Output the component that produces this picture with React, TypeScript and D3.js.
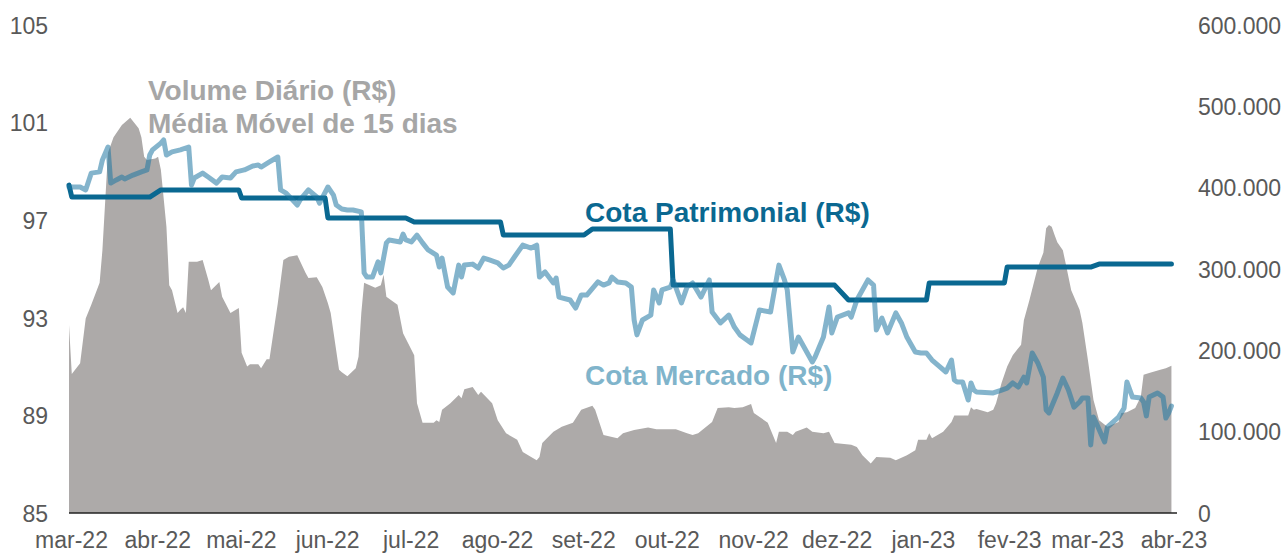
import React, { useEffect, useRef } from 'react'
import * as d3 from 'd3'

// volume diário (média móvel 15 dias), R$ - eixo direito
const volumeSeries: [string, number][] = [
  ['2022-03-01', 231000], ['2022-03-02', 171000], ['2022-03-05', 184000], ['2022-03-07', 239000],
  ['2022-03-09', 256000], ['2022-03-12', 283000], ['2022-03-13', 323000], ['2022-03-15', 443000],
  ['2022-03-17', 462000], ['2022-03-20', 477000], ['2022-03-23', 486000], ['2022-03-26', 473000],
  ['2022-03-27', 462000], ['2022-03-28', 438000], ['2022-03-29', 434000], ['2022-04-01', 436000],
  ['2022-04-02', 438000], ['2022-04-03', 422000], ['2022-04-05', 352000], ['2022-04-06', 280000],
  ['2022-04-07', 274000], ['2022-04-09', 246000], ['2022-04-10', 250000], ['2022-04-11', 253000],
  ['2022-04-12', 246000], ['2022-04-13', 309000], ['2022-04-16', 309000], ['2022-04-18', 311000],
  ['2022-04-20', 287000], ['2022-04-21', 274000], ['2022-04-24', 284000], ['2022-04-25', 266000],
  ['2022-04-28', 246000], ['2022-05-01', 252000], ['2022-05-02', 197000], ['2022-05-04', 180000],
  ['2022-05-05', 183000], ['2022-05-08', 183000], ['2022-05-09', 178000], ['2022-05-11', 189000],
  ['2022-05-12', 189000], ['2022-05-15', 258000], ['2022-05-17', 311000], ['2022-05-19', 315000],
  ['2022-05-22', 317000], ['2022-05-25', 295000], ['2022-05-26', 289000], ['2022-05-29', 290000],
  ['2022-05-31', 278000], ['2022-06-02', 258000], ['2022-06-03', 246000], ['2022-06-06', 176000],
  ['2022-06-07', 173000], ['2022-06-09', 168000], ['2022-06-12', 178000], ['2022-06-13', 192000],
  ['2022-06-14', 246000], ['2022-06-15', 283000], ['2022-06-17', 280000], ['2022-06-19', 277000],
  ['2022-06-21', 280000], ['2022-06-22', 293000], ['2022-06-23', 266000], ['2022-06-27', 256000],
  ['2022-06-29', 221000], ['2022-07-03', 194000], ['2022-07-04', 135000], ['2022-07-06', 111000],
  ['2022-07-10', 111000], ['2022-07-11', 114000], ['2022-07-12', 112000], ['2022-07-13', 127000],
  ['2022-07-16', 135000], ['2022-07-19', 145000], ['2022-07-20', 141000], ['2022-07-21', 152000],
  ['2022-07-24', 155000], ['2022-07-26', 145000], ['2022-07-27', 149000], ['2022-07-31', 135000],
  ['2022-08-02', 114000], ['2022-08-05', 98000], ['2022-08-09', 90000], ['2022-08-11', 75000],
  ['2022-08-14', 69000], ['2022-08-16', 65000], ['2022-08-17', 69000], ['2022-08-18', 86000],
  ['2022-08-22', 100000], ['2022-08-25', 106000], ['2022-08-29', 111000], ['2022-09-01', 127000],
  ['2022-09-05', 132000], ['2022-09-06', 127000], ['2022-09-09', 96000], ['2022-09-14', 92000],
  ['2022-09-16', 98000], ['2022-09-20', 102000], ['2022-09-25', 105000], ['2022-09-28', 103000],
  ['2022-10-05', 103000], ['2022-10-09', 98000], ['2022-10-11', 96000], ['2022-10-13', 98000],
  ['2022-10-18', 112000], ['2022-10-20', 129000], ['2022-10-24', 130000], ['2022-10-26', 129000],
  ['2022-10-29', 130000], ['2022-11-01', 134000], ['2022-11-02', 123000], ['2022-11-07', 111000],
  ['2022-11-10', 86000], ['2022-11-11', 100000], ['2022-11-14', 100000], ['2022-11-16', 96000],
  ['2022-11-17', 100000], ['2022-11-21', 105000], ['2022-11-23', 100000], ['2022-11-27', 98000],
  ['2022-11-29', 100000], ['2022-12-01', 86000], ['2022-12-07', 84000], ['2022-12-09', 81000],
  ['2022-12-11', 71000], ['2022-12-14', 61000], ['2022-12-16', 69000], ['2022-12-21', 68000],
  ['2022-12-23', 65000], ['2022-12-27', 71000], ['2022-12-30', 77000], ['2022-12-31', 90000],
  ['2023-01-03', 90000], ['2023-01-04', 98000], ['2023-01-05', 92000], ['2023-01-09', 100000],
  ['2023-01-12', 112000], ['2023-01-13', 120000], ['2023-01-18', 120000], ['2023-01-19', 130000],
  ['2023-01-20', 127000], ['2023-01-21', 128000], ['2023-01-25', 124000], ['2023-01-27', 127000],
  ['2023-01-28', 135000], ['2023-01-30', 160000], ['2023-02-01', 180000], ['2023-02-03', 194000],
  ['2023-02-06', 207000], ['2023-02-07', 237000], ['2023-02-09', 262000], ['2023-02-12', 302000],
  ['2023-02-14', 320000], ['2023-02-15', 350000], ['2023-02-16', 354000], ['2023-02-17', 352000],
  ['2023-02-18', 342000], ['2023-02-19', 333000], ['2023-02-21', 323000], ['2023-02-22', 307000],
  ['2023-02-24', 274000], ['2023-02-27', 250000], ['2023-02-28', 234000], ['2023-03-02', 188000],
  ['2023-03-04', 139000], ['2023-03-06', 114000], ['2023-03-09', 106000], ['2023-03-13', 112000],
  ['2023-03-14', 123000], ['2023-03-16', 124000], ['2023-03-19', 129000], ['2023-03-21', 143000],
  ['2023-03-22', 170000], ['2023-03-24', 172000], ['2023-03-28', 176000], ['2023-03-30', 178000],
  ['2023-04-01', 181000],
]

// cota de mercado, R$ - eixo esquerdo
const mercadoSeries: [string, number][] = [
  ['2022-03-01', 98.36], ['2022-03-05', 98.36], ['2022-03-07', 98.24], ['2022-03-09', 98.93],
  ['2022-03-12', 98.98], ['2022-03-13', 99.47], ['2022-03-15', 100.0], ['2022-03-16', 98.52],
  ['2022-03-18', 98.65], ['2022-03-20', 98.77], ['2022-03-21', 98.69], ['2022-03-24', 98.85],
  ['2022-03-27', 98.98], ['2022-03-29', 99.06], ['2022-03-30', 99.67], ['2022-03-31', 99.88],
  ['2022-04-03', 100.16], ['2022-04-04', 100.29], ['2022-04-05', 99.67], ['2022-04-07', 99.8],
  ['2022-04-10', 99.88], ['2022-04-13', 100.0], ['2022-04-14', 98.44], ['2022-04-15', 98.73],
  ['2022-04-18', 98.93], ['2022-04-20', 98.77], ['2022-04-23', 98.52], ['2022-04-25', 98.77],
  ['2022-04-28', 98.73], ['2022-04-30', 98.98], ['2022-05-03', 99.06], ['2022-05-06', 99.22],
  ['2022-05-08', 99.26], ['2022-05-09', 99.18], ['2022-05-12', 99.39], ['2022-05-15', 99.59],
  ['2022-05-16', 98.24], ['2022-05-18', 98.11], ['2022-05-22', 97.62], ['2022-05-23', 97.83],
  ['2022-05-26', 98.24], ['2022-05-29', 97.95], ['2022-05-30', 97.7], ['2022-06-02', 98.36],
  ['2022-06-04', 98.03], ['2022-06-05', 97.62], ['2022-06-07', 97.46], ['2022-06-09', 97.42],
  ['2022-06-11', 97.42], ['2022-06-14', 97.34], ['2022-06-15', 94.84], ['2022-06-16', 94.67],
  ['2022-06-18', 94.67], ['2022-06-20', 95.29], ['2022-06-21', 94.84], ['2022-06-23', 96.07],
  ['2022-06-24', 96.19], ['2022-06-28', 96.11], ['2022-06-29', 96.43], ['2022-06-30', 96.19],
  ['2022-07-02', 96.11], ['2022-07-04', 96.39], ['2022-07-06', 96.07], ['2022-07-08', 95.78],
  ['2022-07-11', 95.57], ['2022-07-12', 95.08], ['2022-07-13', 95.45], ['2022-07-15', 94.26],
  ['2022-07-17', 94.02], ['2022-07-19', 95.16], ['2022-07-20', 94.67], ['2022-07-21', 95.16],
  ['2022-07-24', 95.2], ['2022-07-26', 95.04], ['2022-07-28', 95.45], ['2022-07-30', 95.37],
  ['2022-08-02', 95.25], ['2022-08-04', 95.04], ['2022-08-06', 95.16], ['2022-08-08', 95.49],
  ['2022-08-11', 95.98], ['2022-08-14', 95.86], ['2022-08-16', 95.98], ['2022-08-17', 94.67],
  ['2022-08-19', 94.88], ['2022-08-22', 94.43], ['2022-08-23', 94.63], ['2022-08-24', 93.85],
  ['2022-08-28', 93.73], ['2022-08-30', 93.4], ['2022-09-01', 93.93], ['2022-09-03', 93.93],
  ['2022-09-07', 94.47], ['2022-09-09', 94.34], ['2022-09-11', 94.43], ['2022-09-12', 94.67],
  ['2022-09-14', 94.47], ['2022-09-17', 94.43], ['2022-09-19', 94.26], ['2022-09-20', 92.91],
  ['2022-09-21', 92.3], ['2022-09-23', 92.91], ['2022-09-26', 93.11], ['2022-09-27', 94.14],
  ['2022-09-29', 93.61], ['2022-09-30', 94.14], ['2022-10-03', 94.26], ['2022-10-04', 94.55],
  ['2022-10-07', 93.61], ['2022-10-09', 94.26], ['2022-10-11', 94.43], ['2022-10-14', 93.85],
  ['2022-10-17', 94.55], ['2022-10-18', 93.24], ['2022-10-21', 92.79], ['2022-10-24', 93.11],
  ['2022-10-26', 92.62], ['2022-10-28', 92.3], ['2022-11-01', 91.97], ['2022-11-04', 93.32],
  ['2022-11-08', 93.24], ['2022-11-11', 95.16], ['2022-11-13', 94.55], ['2022-11-14', 94.14],
  ['2022-11-16', 91.6], ['2022-11-18', 92.21], ['2022-11-23', 91.19], ['2022-11-24', 91.39],
  ['2022-11-27', 92.21], ['2022-11-29', 93.44], ['2022-11-30', 92.38], ['2022-12-02', 93.03],
  ['2022-12-06', 93.2], ['2022-12-07', 93.03], ['2022-12-09', 93.73], ['2022-12-13', 94.55],
  ['2022-12-15', 94.34], ['2022-12-16', 92.5], ['2022-12-18', 92.99], ['2022-12-20', 92.38],
  ['2022-12-23', 93.2], ['2022-12-25', 92.79], ['2022-12-27', 92.2], ['2022-12-30', 91.6],
  ['2023-01-01', 91.56], ['2023-01-03', 91.56], ['2023-01-05', 91.27], ['2023-01-07', 91.07],
  ['2023-01-10', 90.78], ['2023-01-12', 91.27], ['2023-01-13', 90.45], ['2023-01-14', 90.37],
  ['2023-01-16', 90.37], ['2023-01-18', 89.63], ['2023-01-19', 90.33], ['2023-01-20', 90.04],
  ['2023-01-21', 89.96], ['2023-01-27', 89.92], ['2023-01-30', 90.04], ['2023-02-01', 90.12],
  ['2023-02-03', 90.33], ['2023-02-05', 90.16], ['2023-02-07', 90.57], ['2023-02-08', 90.33],
  ['2023-02-10', 91.56], ['2023-02-12', 91.15], ['2023-02-14', 90.57], ['2023-02-15', 89.22],
  ['2023-02-16', 89.1], ['2023-02-19', 89.92], ['2023-02-21', 90.53], ['2023-02-23', 90.04],
  ['2023-02-25', 89.34], ['2023-02-27', 89.55], ['2023-02-28', 89.71], ['2023-03-02', 89.71],
  ['2023-03-03', 87.79], ['2023-03-04', 88.93], ['2023-03-05', 88.69], ['2023-03-08', 87.91],
  ['2023-03-09', 88.52], ['2023-03-13', 88.93], ['2023-03-15', 89.3], ['2023-03-16', 90.37],
  ['2023-03-18', 89.75], ['2023-03-21', 89.71], ['2023-03-22', 89.55], ['2023-03-23', 88.98],
  ['2023-03-24', 89.75], ['2023-03-27', 89.92], ['2023-03-29', 89.75], ['2023-03-30', 88.89],
  ['2023-03-31', 89.1], ['2023-04-01', 89.38],
]

// cota patrimonial, R$ - eixo esquerdo
const patrimonialSeries: [string, number][] = [
  ['2022-03-01', 98.44], ['2022-03-02', 97.95], ['2022-03-30', 97.95], ['2022-04-03', 98.24],
  ['2022-05-01', 98.24], ['2022-05-02', 97.91], ['2022-06-01', 97.91], ['2022-06-02', 97.09],
  ['2022-06-30', 97.09], ['2022-07-03', 96.93], ['2022-08-03', 96.93], ['2022-08-04', 96.39],
  ['2022-09-02', 96.39], ['2022-09-05', 96.64], ['2022-10-03', 96.64], ['2022-10-04', 94.34],
  ['2022-12-01', 94.34], ['2022-12-06', 93.73], ['2023-01-03', 93.73], ['2023-01-04', 94.43],
  ['2023-01-31', 94.43], ['2023-02-01', 95.08], ['2023-03-03', 95.08], ['2023-03-06', 95.2],
  ['2023-04-01', 95.2],
]

const monthLabels = [
  'mar-22', 'abr-22', 'mai-22', 'jun-22', 'jul-22', 'ago-22', 'set-22',
  'out-22', 'nov-22', 'dez-22', 'jan-23', 'fev-23', 'mar-23', 'abr-23',
]
const leftTicks = [85, 89, 93, 97, 101, 105]
const rightTicks = [0, 100000, 200000, 300000, 400000, 500000, 600000]

const FONT = '"Liberation Sans", Arial, Helvetica, sans-serif'
const W = 1287
const H = 553

const ptBR = d3.formatLocale({ decimal: ',', thousands: '.', grouping: [3], currency: ['R$', ''] })
const fmtThousands = ptBR.format(',.0f')
const parse = d3.utcParse('%Y-%m-%d')

const App = () => {
  const ref = useRef<SVGSVGElement>(null)

  useEffect(() => {
    document.body.style.margin = '0'
    const svg = d3.select(ref.current)
    svg.selectAll('*').remove()

    const x = d3.scaleUtc()
      .domain([parse('2022-03-01'), parse('2023-04-03')])
      .range([69, 1177])
    const yL = d3.scaleLinear().domain([85, 105]).range([513, 25])
    const yR = d3.scaleLinear().domain([0, 600000]).range([513, 25])

    const volume = volumeSeries.map(([d, v]) => ({ date: parse(d), v }))
    const mercado = mercadoSeries.map(([d, v]) => ({ date: parse(d), v }))
    const patrimonial = patrimonialSeries.map(([d, v]) => ({ date: parse(d), v }))

    const area = d3.area<any>()
      .x(d => x(d.date))
      .y0(yR(0))
      .y1(d => yR(d.v))
    svg.append('path')
      .datum(volume)
      .attr('d', area)
      .attr('fill', '#adaaa9')

    const line = d3.line<any>()
      .x(d => x(d.date))
      .y(d => yL(d.v))

    svg.append('path')
      .datum(patrimonial)
      .attr('d', line)
      .attr('fill', 'none')
      .attr('stroke', '#0a6891')
      .attr('stroke-width', 5)
      .attr('stroke-linejoin', 'round')
      .attr('stroke-linecap', 'round')

    svg.append('path')
      .datum(mercado)
      .attr('d', line)
      .attr('fill', 'none')
      .attr('stroke', '#1f77a3')
      .attr('stroke-opacity', 0.55)
      .attr('stroke-width', 5)
      .attr('stroke-linejoin', 'round')
      .attr('stroke-linecap', 'round')

    // baseline axis
    svg.append('line')
      .attr('x1', x.range()[0])
      .attr('x2', x.range()[1])
      .attr('y1', yR(0))
      .attr('y2', yR(0))
      .attr('stroke', '#222')
      .attr('stroke-width', 1.5)

    const styleAxis = (g: any) => {
      g.select('.domain').remove()
      g.attr('font-family', FONT).attr('font-size', 23)
      g.selectAll('text').attr('fill', '#595959')
    }

    svg.append('g')
      .attr('transform', 'translate(48,0)')
      .call(d3.axisLeft(yL).tickValues(leftTicks).tickSize(0).tickPadding(0).tickFormat(d3.format('d')))
      .call(styleAxis)
      .selectAll('text').attr('dy', '0.36em')

    svg.append('g')
      .attr('transform', 'translate(1198,0)')
      .call(d3.axisRight(yR).tickValues(rightTicks).tickSize(0).tickPadding(0).tickFormat(d => fmtThousands(d as number)))
      .call(styleAxis)
      .selectAll('text').attr('dy', '0.36em')

    const months = d3.utcMonth.range(parse('2022-03-01'), parse('2023-04-02'))
    svg.append('g')
      .attr('transform', `translate(2,${yR(0)})`)
      .call(d3.axisBottom(x).tickValues(months).tickSize(0).tickPadding(19)
        .tickFormat((d, i) => monthLabels[i]))
      .call(styleAxis)

    const labels = svg.append('g')
      .attr('font-family', FONT)
      .attr('font-size', 28)
      .attr('font-weight', 'bold')

    labels.append('text')
      .attr('x', 148).attr('y', 100)
      .attr('fill', '#a6a6a6')
      .text('Volume Diário (R$)')
    labels.append('text')
      .attr('x', 148).attr('y', 133)
      .attr('fill', '#a6a6a6')
      .text('Média Móvel de 15 dias')
    labels.append('text')
      .attr('x', 585).attr('y', 222)
      .attr('fill', '#0a6891')
      .text('Cota Patrimonial (R$)')
    labels.append('text')
      .attr('x', 585).attr('y', 385)
      .attr('fill', '#80b4cb')
      .text('Cota Mercado (R$)')
  }, [])

  return (
    <svg ref={ref} width={W} height={H} style={{ display: 'block', background: '#fff' }} />
  )
}

export default App
